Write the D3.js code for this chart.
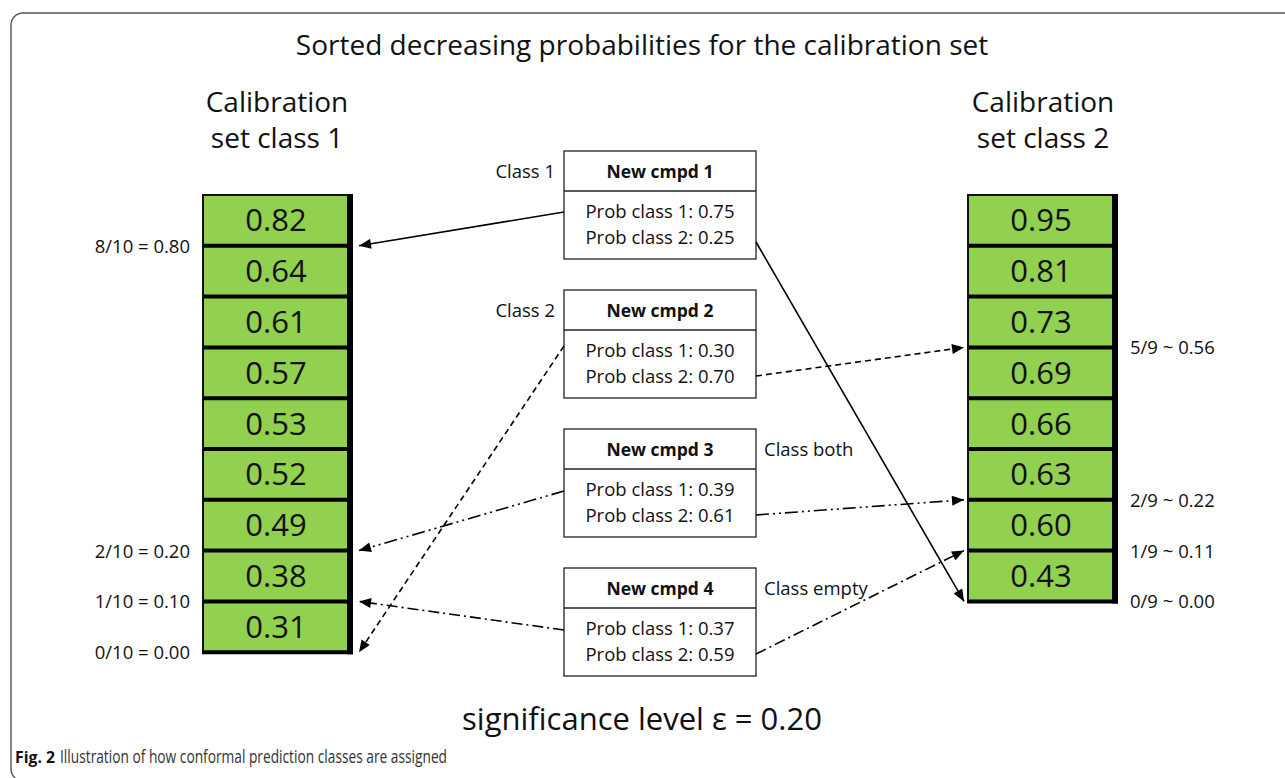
<!DOCTYPE html>
<html>
<head>
<meta charset="utf-8">
<script src="https://cdn.jsdelivr.net/npm/d3@7"></script>
<style>
  body { margin: 0; background: #fff; }
  text { font-family: "Open Sans", "Noto Sans", sans-serif; fill: #111; }
</style>
</head>
<body>
<script>
// calibration set scores, sorted decreasing
var class1Scores = [0.82, 0.64, 0.61, 0.57, 0.53, 0.52, 0.49, 0.38, 0.31];
var class2Scores = [0.95, 0.81, 0.73, 0.69, 0.66, 0.63, 0.60, 0.43];

// new compounds
var compounds = ["New cmpd 1", "New cmpd 2", "New cmpd 3", "New cmpd 4"];
var probClass1 = [0.75, 0.30, 0.39, 0.37];
var probClass2 = [0.25, 0.70, 0.61, 0.59];
var assigned = ["Class 1", "Class 2", "Class both", "Class empty"];

var columnTitles = [["Calibration", "set class 1"], ["Calibration", "set class 2"]];
var title = "Sorted decreasing probabilities for the calibration set";
var significance = "significance level \u03b5 = 0.20";

var width = 1285, height = 778;
var green = "#92d050";
var cellH = 50.8;

var svg = d3.select("body").append("svg")
  .attr("width", width)
  .attr("height", height);

// frame
svg.append("rect")
  .attr("x", 11).attr("y", 13)
  .attr("width", 1320).attr("height", 768)
  .attr("rx", 12)
  .attr("fill", "none")
  .attr("stroke", "#555")
  .attr("stroke-width", 1.4);

svg.append("text")
  .attr("x", 642).attr("y", 55)
  .attr("text-anchor", "middle")
  .style("font-size", "28px")
  .text(title);

// arrow head
svg.append("defs").append("marker")
  .attr("id", "head")
  .attr("markerUnits", "userSpaceOnUse")
  .attr("viewBox", "0 0 12 10")
  .attr("refX", 12).attr("refY", 5)
  .attr("markerWidth", 13).attr("markerHeight", 10)
  .attr("orient", "auto")
  .append("path")
  .attr("d", "M0,0L12,5L0,10z")
  .attr("fill", "#000");

// column scales
var columns = [
  { scores: class1Scores, x0: 203, x1: 349, cx: 277, sep: "=", fmt: d3.format(".2f") },
  { scores: class2Scores, x0: 968, x1: 1114, cx: 1043, sep: "~", fmt: d3.format(".2f") }
];
columns.forEach(function(col) {
  col.y = d3.scaleLinear().domain([0, col.scores.length]).range([195, 195 + col.scores.length * cellH]);
});

function drawColumn(col, k) {
  var g = svg.append("g");
  var n = col.scores.length;

  columnTitles[k].forEach(function(t, i) {
    g.append("text")
      .attr("x", col.cx).attr("y", 112 + i * 36)
      .attr("text-anchor", "middle")
      .style("font-size", "28px")
      .text(t);
  });

  g.selectAll("rect.cell")
    .data(col.scores)
    .enter()
    .append("rect")
    .attr("class", "cell")
    .attr("x", col.x0)
    .attr("y", function(d, i) { return col.y(i); })
    .attr("width", col.x1 - col.x0)
    .attr("height", cellH)
    .attr("fill", green);

  g.selectAll("text.val")
    .data(col.scores)
    .enter()
    .append("text")
    .attr("class", "val")
    .attr("x", (col.x0 + col.x1) / 2)
    .attr("y", function(d, i) { return col.y(i + 0.5) + 11; })
    .attr("text-anchor", "middle")
    .style("font-size", "31px")
    .text(function(d) { return col.fmt(d); });

  // separators
  g.selectAll("line.sep")
    .data(d3.range(1, n))
    .enter()
    .append("line")
    .attr("x1", col.x0).attr("x2", col.x1)
    .attr("y1", function(d) { return col.y(d); })
    .attr("y2", function(d) { return col.y(d); })
    .attr("stroke", "#000").attr("stroke-width", 4);

  var top = col.y(0), bot = col.y(n);
  g.append("path")
    .attr("d", "M" + col.x0 + "," + bot + "V" + top + "H" + col.x1)
    .attr("fill", "none").attr("stroke", "#111").attr("stroke-width", 2);
  g.append("line")
    .attr("x1", col.x1 + 1).attr("x2", col.x1 + 1)
    .attr("y1", top - 1).attr("y2", bot + 2)
    .attr("stroke", "#000").attr("stroke-width", 6);
  g.append("line")
    .attr("x1", col.x0 - 1).attr("x2", col.x1 + 4)
    .attr("y1", bot).attr("y2", bot)
    .attr("stroke", "#000").attr("stroke-width", 4);
}
columns.forEach(drawColumn);

// boxes for new compounds
var boxX = 564, boxW = 192, headH = 40, boxH = 108;
var boxY = d3.scaleLinear().domain([0, 1]).range([151, 290]);

var boxes = svg.selectAll("g.box")
  .data(compounds)
  .enter()
  .append("g")
  .attr("class", "box")
  .attr("transform", function(d, i) { return "translate(" + boxX + "," + boxY(i) + ")"; });

boxes.append("rect")
  .attr("width", boxW).attr("height", boxH)
  .attr("fill", "#fff").attr("stroke", "#222").attr("stroke-width", 1.3);
boxes.append("line")
  .attr("x1", 0).attr("x2", boxW)
  .attr("y1", headH).attr("y2", headH)
  .attr("stroke", "#222").attr("stroke-width", 1.3);
boxes.append("text")
  .attr("x", boxW / 2).attr("y", 27)
  .attr("text-anchor", "middle")
  .style("font-size", "17.5px").style("font-weight", "bold")
  .text(function(d) { return d; });
boxes.append("text")
  .attr("x", boxW / 2).attr("y", 67)
  .attr("text-anchor", "middle")
  .style("font-size", "18.5px")
  .text(function(d, i) { return "Prob class 1: " + d3.format(".2f")(probClass1[i]); });
boxes.append("text")
  .attr("x", boxW / 2).attr("y", 93)
  .attr("text-anchor", "middle")
  .style("font-size", "18.5px")
  .text(function(d, i) { return "Prob class 2: " + d3.format(".2f")(probClass2[i]); });
boxes.append("text")
  .attr("x", function(d, i) { return /\d/.test(assigned[i]) ? -9 : boxW + 8; })
  .attr("y", 27)
  .attr("text-anchor", function(d, i) { return /\d/.test(assigned[i]) ? "end" : "start"; })
  .style("font-size", "18.5px")
  .text(function(d, i) { return assigned[i]; });

// where each probability falls in the sorted calibration list
function rank(scores, p) {
  return scores.filter(function(s) { return s > p; }).length;
}

var dashes = [null, "6,4", "13,4,2,4,2,4", "11,4,2,4"];

compounds.forEach(function(c, i) {
  var top = boxY(i);
  var r1 = rank(class1Scores, probClass1[i]);
  var r2 = rank(class2Scores, probClass2[i]);
  var ly = columns[0].y(r1), ry = columns[1].y(r2);
  // to class 1 column
  svg.append("line")
    .attr("x1", boxX).attr("y1", top + (i === 0 ? 61 : 60 + (i === 1 ? -4 : 2)))
    .attr("x2", columns[0].x1 + 10).attr("y2", ly)
    .attr("stroke", "#000").attr("stroke-width", 1.6)
    .attr("stroke-dasharray", dashes[i])
    .attr("marker-end", "url(#head)");
  // to class 2 column
  svg.append("line")
    .attr("x1", boxX + boxW).attr("y1", top + (i === 0 ? 91 : 86))
    .attr("x2", columns[1].x0 - 4).attr("y2", ry)
    .attr("stroke", "#000").attr("stroke-width", 1.6)
    .attr("stroke-dasharray", dashes[i])
    .attr("marker-end", "url(#head)");
  columns[0].marks = (columns[0].marks || []).concat([r1]);
  columns[1].marks = (columns[1].marks || []).concat([r2]);
});

// p-value labels
columns.forEach(function(col, k) {
  var n = col.scores.length;
  var marks = Array.from(new Set(col.marks));
  svg.selectAll(null)
    .data(marks)
    .enter()
    .append("text")
    .attr("x", k === 0 ? 190 : 1130)
    .attr("y", function(d) { return col.y(d) + 7; })
    .attr("text-anchor", k === 0 ? "end" : "start")
    .style("font-size", "18.5px")
    .text(function(d) {
      var below = n - d;
      return below + "/" + (n + 1) + " " + col.sep + " " + col.fmt(below / (n + 1));
    });
});

svg.append("text")
  .attr("x", 642).attr("y", 730)
  .attr("text-anchor", "middle")
  .style("font-size", "31px")
  .text(significance);

// caption
svg.append("text")
  .attr("x", 15).attr("y", 763)
  .style("font-size", "16px").style("font-weight", "bold")
  .attr("textLength", 40).attr("lengthAdjust", "spacingAndGlyphs")
  .text("Fig. 2");
svg.append("text")
  .attr("x", 60).attr("y", 763)
  .style("font-size", "18px").style("fill", "#333")
  .attr("textLength", 387).attr("lengthAdjust", "spacingAndGlyphs")
  .text("Illustration of how conformal prediction classes are assigned");
</script>
</body>
</html>
